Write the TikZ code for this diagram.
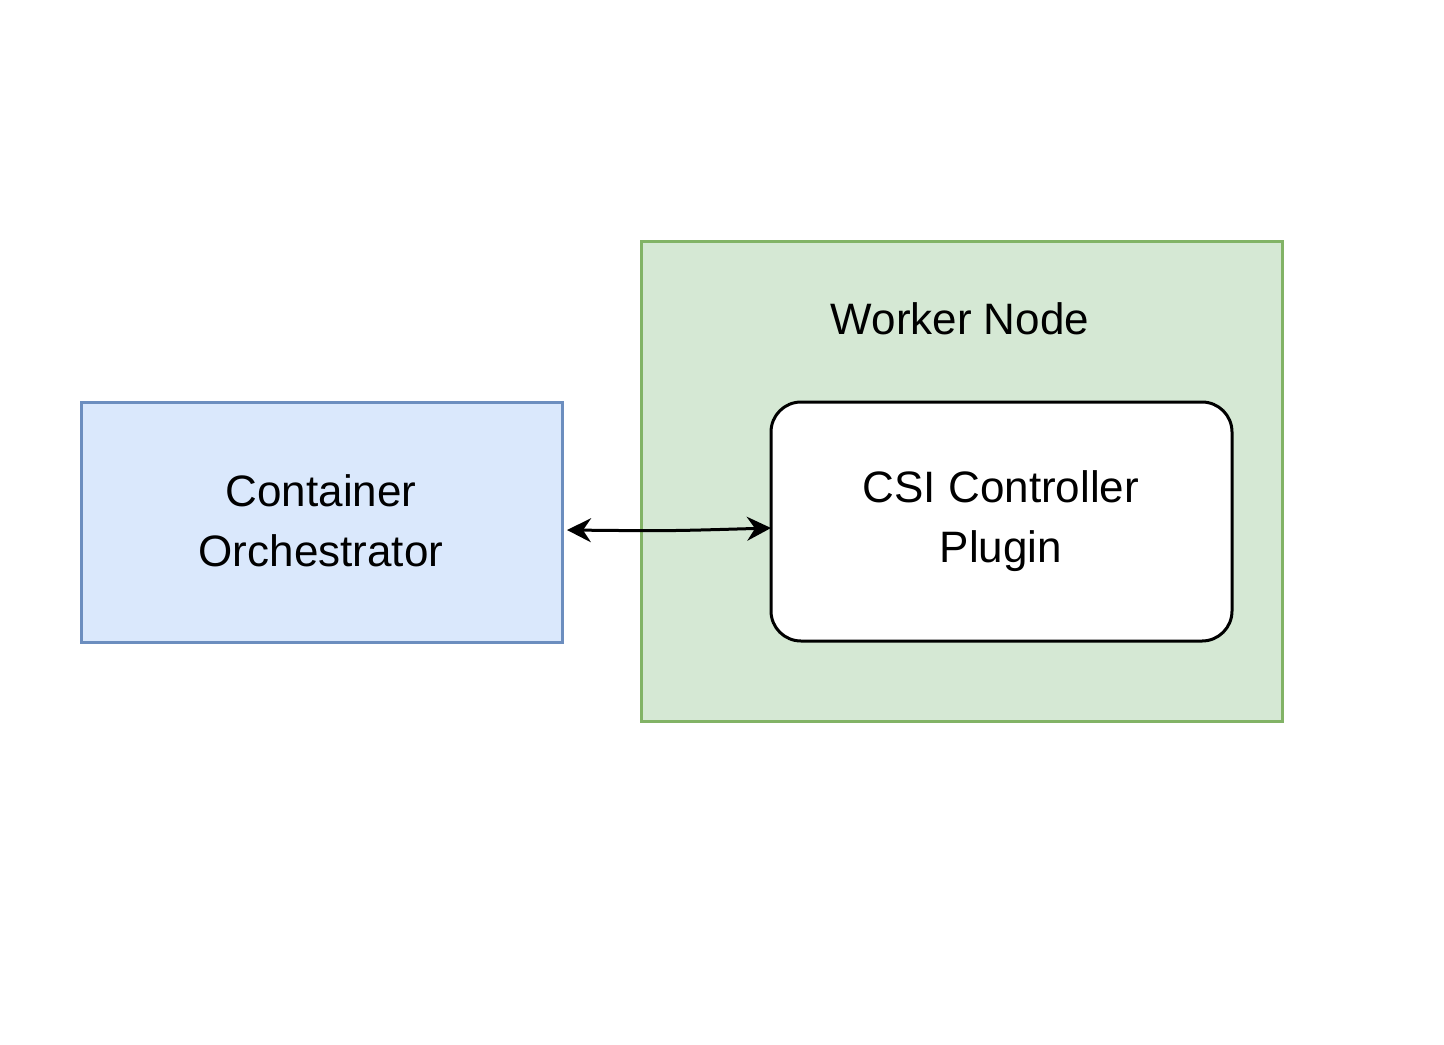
\documentclass[tikz,border=0pt]{standalone}
\usepackage{fontspec}
\setmainfont{Liberation Sans}
\usetikzlibrary{arrows.meta}
\definecolor{bluefill}{HTML}{DAE8FC}\definecolor{blueline}{HTML}{6C8EBF}
\definecolor{greenfill}{HTML}{D5E8D4}\definecolor{greenline}{HTML}{82B366}
\begin{document}
\begin{tikzpicture}[x=0.5pt,y=-0.5pt,
  lbl/.style={font=\fontsize{22}{30}\selectfont, align=center},
  box/.style={line width=1.5pt}]
\useasboundingbox (0,0) rectangle (1444,1044);
\draw[box,fill=bluefill,draw=blueline] (81,402) rectangle (562,642);
\node[lbl] (co) at (321,521) {Container\\Orchestrator};
\draw[box,fill=greenfill,draw=greenline] (641,241) rectangle (1282,721);
\node[lbl] (wn) at (960,319) {Worker Node};
\draw[line width=1.5pt,fill=white,rounded corners=15pt] (771,402) rectangle (1232,641);
\node[lbl] (csi) at (1001,521) {CSI Controller\\Plugin};
\coordinate (a) at (567,530);
\coordinate (b) at (771,528);
\draw[line width=1.5pt,{Stealth[length=12pt,width=12pt,inset=4pt]}-{Stealth[length=12pt,width=12pt,inset=4pt]}] (a) .. controls (669,531) .. (b);
\end{tikzpicture}
\end{document}
